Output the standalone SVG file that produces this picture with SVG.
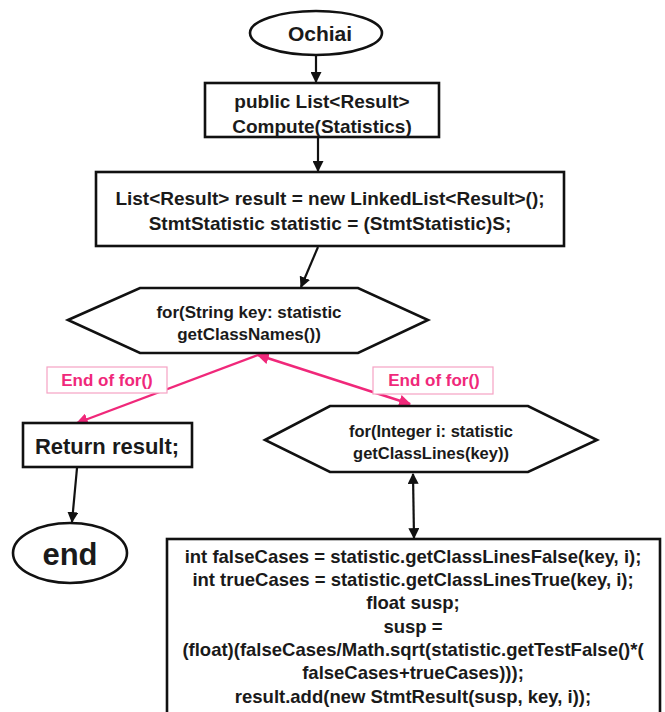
<svg xmlns="http://www.w3.org/2000/svg" width="665" height="712" viewBox="0 0 665 712">
<defs>
<style>
.shape{fill:#fff;stroke:#111;stroke-width:2.6}
.t{font-family:"Liberation Sans",Arial,sans-serif;font-weight:bold;fill:#1a1a1a;text-anchor:middle}
.conn{stroke:#111;stroke-width:2.2;fill:none}
.pink{stroke:#f0287a;stroke-width:2.4;fill:none}
.lbl{fill:#fff;stroke:#f6a2c4;stroke-width:1.2}
.pt{font-family:"Liberation Sans",Arial,sans-serif;font-weight:bold;fill:#f0287a;text-anchor:middle;font-size:17px}
</style>
<marker id="ab" viewBox="0 0 10 10" refX="9" refY="5" markerWidth="5" markerHeight="5" orient="auto-start-reverse"><path d="M0,0 L10,5 L0,10 z" fill="#111"/></marker>
<marker id="ap" viewBox="0 0 10 10" refX="9" refY="5" markerWidth="5" markerHeight="5" orient="auto-start-reverse"><path d="M0,0 L10,5 L0,10 z" fill="#f0287a"/></marker>
</defs>
<rect width="665" height="712" fill="#fff"/>
<g id="connectors">
<line class="conn" x1="316" y1="55" x2="316" y2="82" marker-end="url(#ab)"/>
<line class="conn" x1="318" y1="138" x2="318" y2="171" marker-end="url(#ab)"/>
<line class="conn" x1="318" y1="247" x2="301" y2="287" marker-end="url(#ab)"/>
<line class="pink" x1="258" y1="355" x2="77" y2="423" marker-end="url(#ap)"/>
<line class="pink" x1="258" y1="355" x2="410" y2="404" marker-start="url(#ap)" marker-end="url(#ap)"/>
<line class="conn" x1="77" y1="468" x2="72" y2="522" marker-end="url(#ab)"/>
<line class="conn" x1="413" y1="474" x2="414" y2="538" marker-start="url(#ab)" marker-end="url(#ab)"/>
</g>
<g id="label1"><rect class="lbl" x="47" y="367" width="120" height="26"/><text class="pt" x="107" y="386">End of for()</text></g>
<g id="label2"><rect class="lbl" x="373" y="367" width="120" height="27"/><text class="pt" x="434" y="386">End of for()</text></g>
<g id="ochiai"><ellipse class="shape" cx="316" cy="33" rx="66" ry="22"/><text class="t" x="320" y="41" font-size="21">Ochiai</text></g>
<g id="compute"><rect class="shape" x="205" y="83" width="234" height="54"/><text class="t" x="322" y="108" font-size="19">public List&lt;Result&gt;</text><text class="t" x="322" y="133" font-size="19">Compute(Statistics)</text></g>
<g id="init"><rect class="shape" x="96" y="172" width="468" height="74"/><text class="t" x="330" y="205" font-size="19">List&lt;Result&gt; result = new LinkedList&lt;Result&gt;();</text><text class="t" x="330" y="230" font-size="19">StmtStatistic statistic = (StmtStatistic)S;</text></g>
<g id="forKey"><polygon class="shape" points="68,320 140,288 358,288 428,320 358,353 140,353"/><text class="t" x="249" y="318" font-size="17">for(String key: statistic</text><text class="t" x="249" y="340" font-size="17">getClassNames())</text></g>
<g id="return"><rect class="shape" x="23" y="423" width="169" height="44"/><text class="t" x="107" y="454" font-size="22">Return result;</text></g>
<g id="end"><ellipse class="shape" cx="70" cy="553" rx="57" ry="30"/><text class="t" x="70" y="565" font-size="31">end</text></g>
<g id="forI"><polygon class="shape" points="265,440 330,406 528,406 597,440 528,472 330,472"/><text class="t" x="431" y="437" font-size="16.5">for(Integer i: statistic</text><text class="t" x="431" y="459" font-size="16.5">getClassLines(key))</text></g>
<g id="body"><rect class="shape" x="167" y="539" width="493" height="190"/>
<text class="t" x="413" y="563" font-size="18.5">int falseCases = statistic.getClassLinesFalse(key, i);</text>
<text class="t" x="413" y="586" font-size="18.5">int trueCases = statistic.getClassLinesTrue(key, i);</text>
<text class="t" x="413" y="609" font-size="18.5">float susp;</text>
<text class="t" x="413" y="633" font-size="18.5">susp =</text>
<text class="t" x="413" y="656" font-size="18.5">(float)(falseCases/Math.sqrt(statistic.getTestFalse()*(</text>
<text class="t" x="413" y="679" font-size="18.5">falseCases+trueCases)));</text>
<text class="t" x="413" y="703" font-size="18.5">result.add(new StmtResult(susp, key, i));</text>
</g>
</svg>
